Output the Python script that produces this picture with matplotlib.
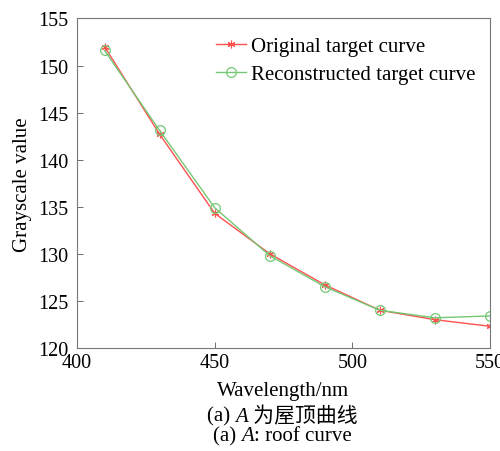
import numpy as np
import matplotlib
matplotlib.use('Agg')
import matplotlib.pyplot as plt

# Data
wavelength = [410, 430, 450, 470, 490, 510, 530, 550]
original = [152.0, 142.7, 134.3, 130.0, 126.7, 124.0, 123.0, 122.3]
reconstructed = [151.6, 143.1, 134.9, 129.8, 126.5, 124.0, 123.2, 123.4]
xticks = [400, 450, 500, 550]
yticks = [120, 125, 130, 135, 140, 145, 150, 155]

plt.rcParams['font.family'] = ['Liberation Serif', 'Noto Sans CJK SC']
plt.rcParams['font.size'] = 14.5

fig = plt.figure(figsize=(5, 4.52), dpi=100)
ax = fig.add_axes([0.154, 0.228, 0.826, 0.729])

ax.plot(wavelength, original, color='#ff5050', lw=1.0, marker=(6, 2, 0),
        ms=5.5, mew=0.8, label='Original target curve')
ax.plot(wavelength, reconstructed, color='#74c874', lw=1.0, marker='o',
        ms=7, mfc='none', mew=0.9, label='Reconstructed target curve')

ax.set_xlim(400, 550)
ax.set_ylim(120, 155)
ax.set_xticks(xticks)
ax.set_yticks(yticks)
ax.tick_params(direction='in', length=4, width=0.6, color='#555555')
ax.tick_params(axis='y', pad=6)
ax.tick_params(axis='x', pad=4)
for s in ax.spines.values():
    s.set_color('#777777')
    s.set_linewidth(0.8)

ax.set_ylabel('Grayscale value', fontsize=15)
ax.yaxis.set_label_coords(-0.109, 0.5)
ax.set_xlabel('Wavelength/nm', fontsize=15)
ax.xaxis.set_label_coords(0.5, -0.1)

ax.legend(loc='upper right', frameon=False, handlelength=1.45, handletextpad=0.25,
          borderaxespad=0.0, labelspacing=0.4, fontsize=15,
          bbox_to_anchor=(0.985, 0.97))

# captions built from pieces (serif text, italic A, Chinese)
fig.canvas.draw()
r = fig.canvas.get_renderer()

def caption(parts, y, xc=0.564):
    texts = []
    for s, style, fam in parts:
        t = fig.text(0, y, s, fontsize=15, style=style, family=fam, va='center', ha='left')
        texts.append(t)
    widths = [t.get_window_extent(r).width for t in texts]
    total = sum(widths)
    x = xc * fig.bbox.width - total / 2
    for t, w in zip(texts, widths):
        t.set_x(x / fig.bbox.width)
        x += w

caption([('(a) ', 'normal', 'Liberation Serif'),
         ('A', 'italic', 'Liberation Serif'),
         (' 为屋顶曲线', 'normal', ['Liberation Serif', 'Noto Sans CJK SC'])],
        1 - 417 / 452)
caption([('(a) ', 'normal', 'Liberation Serif'),
         ('A', 'italic', 'Liberation Serif'),
         (': roof curve', 'normal', 'Liberation Serif')],
        1 - 437 / 452)

fig.savefig('out.png', dpi=100)
